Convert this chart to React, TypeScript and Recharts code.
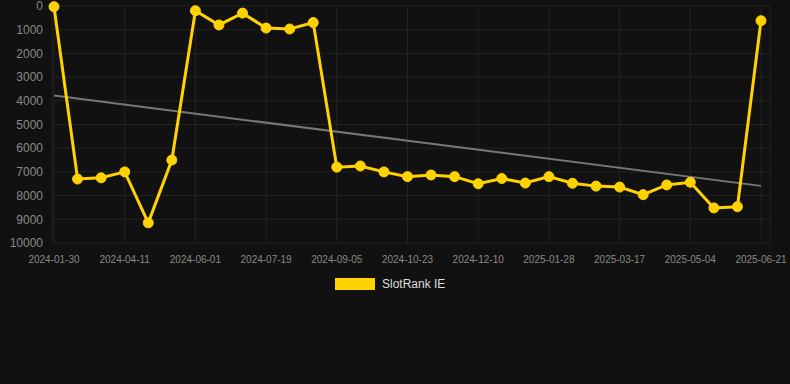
import React from 'react'
import {
    CartesianGrid,
    Line,
    LineChart,
    ReferenceLine,
    XAxis,
    YAxis,
} from 'recharts'

const DATES = [
    '2024-01-30', '2024-02-23', '2024-03-18', '2024-04-11', '2024-04-28', '2024-05-15',
    '2024-06-01', '2024-06-17', '2024-07-03', '2024-07-19', '2024-08-04', '2024-08-20',
    '2024-09-05', '2024-09-21', '2024-10-07', '2024-10-23', '2024-11-08', '2024-11-24',
    '2024-12-10', '2024-12-26', '2025-01-11', '2025-01-28', '2025-02-13', '2025-03-01',
    '2025-03-17', '2025-04-02', '2025-04-18', '2025-05-04', '2025-05-20', '2025-06-05',
    '2025-06-21',
]

const RANKS = [
    30, 7300, 7250, 7000, 9150, 6500,
    200, 800, 300, 930, 970, 700,
    6800, 6750, 7000, 7200, 7130, 7200,
    7500, 7280, 7470, 7200, 7480, 7600,
    7640, 7960, 7550, 7440, 8520, 8470,
    620,
]

// trend line ends
const TREND_START = 3780
const TREND_END = 7590

const Y_TICKS = [0, 1000, 2000, 3000, 4000, 5000, 6000, 7000, 8000, 9000, 10000]

const GOLD = '#ffd200'
const GRID = '#232323'
const FONT = 'Arial, "Liberation Sans", sans-serif'

const data = DATES.map((date, i) => ({ date, rank: RANKS[i] }))

export default function App() {
    return (
        <div
            style={{
                position: 'fixed',
                left: 0,
                top: 0,
                width: 790,
                height: 384,
                background: '#111111',
            }}
        >
            <LineChart
                width={790}
                height={384}
                data={data}
                margin={{ top: 6, right: 20, left: 0, bottom: 111 }}
            >
                <CartesianGrid stroke={GRID} strokeWidth={1} />
                <XAxis
                    dataKey="date"
                    interval={2}
                    height={30}
                    padding={{ left: 2, right: 9 }}
                    axisLine={false}
                    tickLine={false}
                    tickSize={5}
                    tickMargin={8}
                    tick={{ fill: '#888888', fontSize: 10, fontFamily: FONT }}
                />
                <YAxis
                    reversed
                    domain={[0, 10000]}
                    ticks={Y_TICKS}
                    width={52}
                    axisLine={false}
                    tickLine={false}
                    tickSize={0}
                    tickMargin={9}
                    interval={0}
                    tick={{ fill: '#8a8a8a', fontSize: 12, fontFamily: FONT }}
                />
                <ReferenceLine
                    segment={[
                        { x: DATES[0], y: TREND_START },
                        { x: DATES[DATES.length - 1], y: TREND_END },
                    ]}
                    stroke="#777777"
                    strokeWidth={2}
                    ifOverflow="visible"
                />
                <Line
                    type="linear"
                    dataKey="rank"
                    name="SlotRank IE"
                    stroke={GOLD}
                    strokeWidth={3}
                    dot={{ r: 5, fill: GOLD, stroke: GOLD, strokeWidth: 1 }}
                    activeDot={false}
                    isAnimationActive={false}
                />
            </LineChart>
            <div
                style={{
                    position: 'absolute',
                    left: 335,
                    top: 277,
                    display: 'flex',
                    alignItems: 'center',
                    fontFamily: FONT,
                    fontSize: 12,
                    color: '#dddddd',
                }}
            >
                <span
                    style={{
                        display: 'inline-block',
                        width: 40,
                        height: 12,
                        background: GOLD,
                        marginRight: 7,
                    }}
                />
                <span>SlotRank IE</span>
            </div>
        </div>
    )
}
